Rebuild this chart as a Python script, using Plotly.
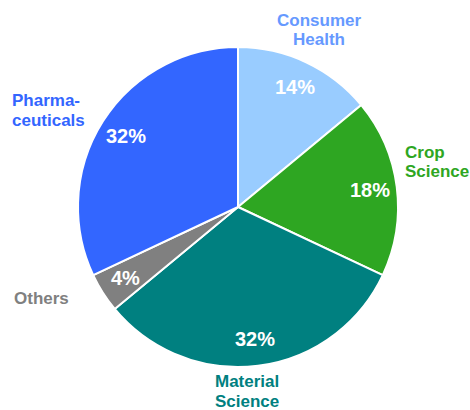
import math
import plotly.graph_objects as go

# Segment shares, clockwise from 12 o'clock
segments = ["Consumer<br>Health", "Crop<br>Science", "Material<br>Science", "Others", "Pharma-<br>ceuticals"]
shares = [14, 18, 32, 4, 32]

slice_colors = ["#99CCFF", "#2EA622", "#008080", "#808080", "#3366FF"]
label_colors = ["#6699FF", "#2EA622", "#008080", "#808080", "#3366FF"]

# Figure size and pie placement (pixels)
W, H = 470, 410
CX, CY, R = 238, 207, 160

# Segment name placement: pixel centre/anchor point of the text block and horizontal anchor
label_xy = [(319, 30), (403, 162), (213, 391), (41, 298), (10, 110)]
label_anchor = ["center", "left", "left", "center", "left"]
LINE_GAP = 20  # pixels between wrapped lines of a segment name

FONT = "Liberation Sans, Arial, sans-serif"


def to_paper(px, py):
    return px / W, 1 - py / H


fig = go.Figure(
    go.Pie(
        labels=segments,
        values=shares,
        sort=False,
        direction="clockwise",
        rotation=0,
        marker=dict(colors=slice_colors, line=dict(color="white", width=2)),
        textinfo="none",
        hoverinfo="label+percent",
        showlegend=False,
        domain=dict(x=[(CX - R) / W, (CX + R) / W], y=[1 - (CY + R) / H, 1 - (CY - R) / H]),
    )
)

annotations = []
total = sum(shares)
acc = 0
for name, v, lc, (lx, ly), anc in zip(segments, shares, label_colors, label_xy, label_anchor):
    mid = (acc + v / 2) / total * 2 * math.pi
    acc += v
    # percentage inside the slice along its mid-angle
    px = CX + 0.83 * R * math.sin(mid)
    py = CY - 0.83 * R * math.cos(mid)
    x, y = to_paper(px, py)
    annotations.append(dict(
        x=x, y=y, xref="paper", yref="paper", text=f"{v}%", showarrow=False,
        font=dict(family=FONT, size=20, color="white", weight="bold"),
        xanchor="center", yanchor="middle",
    ))
    # segment name, one annotation per line for tight line spacing
    lines = name.split("<br>")
    top = ly - LINE_GAP * (len(lines) - 1) / 2
    for i, line in enumerate(lines):
        x, y = to_paper(lx, top + i * LINE_GAP)
        annotations.append(dict(
            x=x, y=y, xref="paper", yref="paper", text=line, showarrow=False,
            font=dict(family=FONT, size=17, color=lc, weight="bold"),
            xanchor=anc, yanchor="middle",
        ))

fig.update_layout(
    width=W, height=H,
    margin=dict(l=0, r=0, t=0, b=0),
    paper_bgcolor="white",
    plot_bgcolor="white",
    annotations=annotations,
)

fig.write_html("out.html")
